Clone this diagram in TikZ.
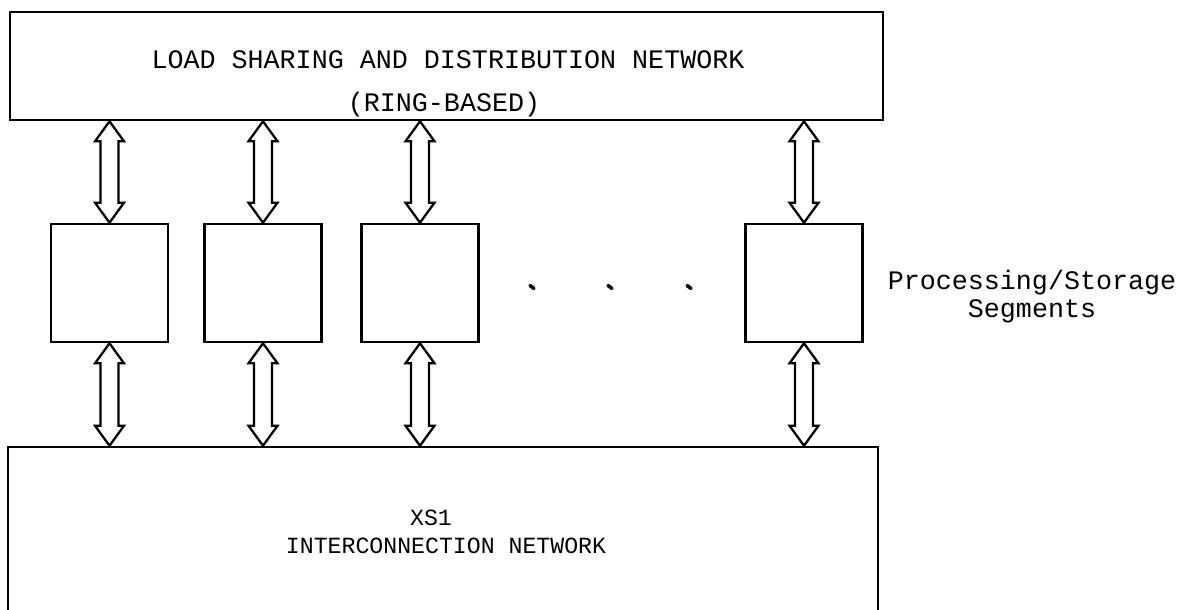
\documentclass[tikz,border=0pt]{standalone}
\usepackage{fontspec}
\newfontfamily\cour{Liberation Mono}
\usetikzlibrary{calc}
\tikzset{
  box/.style={draw, line width=1.5pt, rectangle, inner sep=0pt},
  seg/.style={box, minimum width=2.34cm, minimum height=2.36cm},
  dbl/.style={draw, line width=1.3pt, line join=miter},
  big/.style={font=\cour\fontsize{15.2pt}{17pt}\selectfont, anchor=base, inner sep=0pt},
  small/.style={font=\cour\fontsize{13.2pt}{15pt}\selectfont, anchor=base, inner sep=0pt},
  tick/.style={line width=2pt, line cap=round}
}
\newcommand{\dblarrow}[2]{%
  \draw[dbl] ($(#1)+(-9,20)$) -- ($(#2)+(-9,-20)$) -- ($(#2)+(-14.5,-20)$) -- (#2)
    -- ($(#2)+(14.5,-20)$) -- ($(#2)+(9,-20)$) -- ($(#1)+(9,20)$)
    -- ($(#1)+(14.5,20)$) -- (#1) -- ($(#1)+(-14.5,20)$) -- cycle;}
\begin{document}
\begin{tikzpicture}[x=0.02cm, y=-0.02cm]
\clip (0,0) rectangle (1192,609);
\fill[white] (0,0) rectangle (1192,609);
% top box
\node[box, minimum width=17.46cm, minimum height=2.16cm] (top) at (446.5,66) {};
\node[big] (t1) at (448,68) {LOAD SHARING AND DISTRIBUTION NETWORK};
\node[big] (t2) at (444,111) {(RING-BASED)};
% segments
\node[seg] (b1) at (109.5,283) {};
\node[seg] (b2) at (263,283) {};
\node[seg] (b3) at (420,283) {};
\node[seg] (b4) at (804,283) {};
% bottom box
\node[box, minimum width=17.4cm, minimum height=4.06cm] (bot) at (443,548.5) {};
\node[small] (x1) at (431,525) {XS1};
\node[small] (x2) at (446,553) {INTERCONNECTION NETWORK};
% label
\node[big] (p1) at (1032,289) {Processing/Storage};
\node[big] (p2) at (1032,317) {Segments};
% arrows
\foreach \b in {b1,b2,b3,b4}{
  \dblarrow{top.south -| \b.north}{\b.north}
  \dblarrow{\b.south}{bot.north -| \b.south}
}
% dots
\foreach \x in {532,610,689}{
  \draw[tick] (\x-2,285.5) -- (\x+2,288.5);
}
\end{tikzpicture}
\end{document}
